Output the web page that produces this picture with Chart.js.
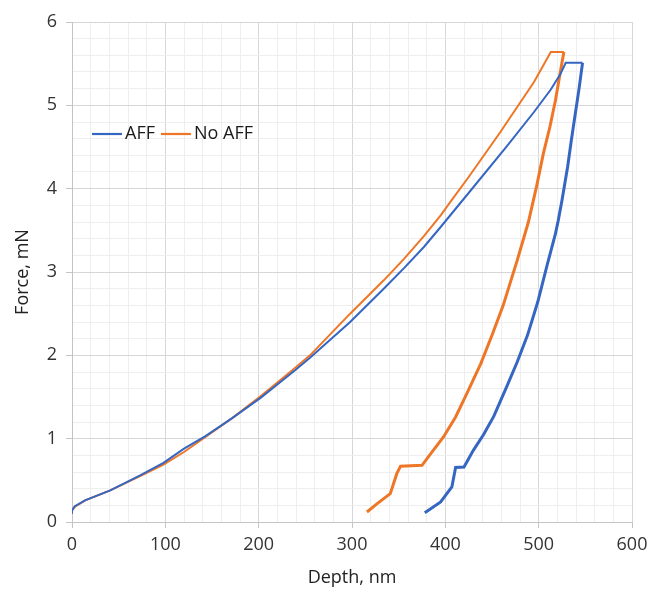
<!DOCTYPE html>
<html>
<head>
<meta charset="utf-8">
<script src="https://cdn.jsdelivr.net/npm/chart.js@4.4.1/dist/chart.umd.min.js"></script>
<style>
  html, body { margin: 0; padding: 0; background: #fff; }
  #wrap { width: 649px; height: 590px; }
</style>
</head>
<body>
<div id="wrap"><canvas id="myChart" width="649" height="590"></canvas></div>
<script>
// series: depth (nm) and force (mN), load then unload
const seriesNames = ['AFF', 'No AFF'];

const affDepth = [0, 0, 3, 14, 41, 73, 98, 120, 143, 172, 202, 239, 255, 298, 334, 356, 377, 395, 406, 428, 466, 495, 513, 523, 529,
  547, 543, 539, 535, 531, 525, 521, 518, 509, 499, 488, 477, 466, 459, 452, 441, 430, 420, 411, 407, 395, 378];
const affForce = [0.10, 0.14, 0.19, 0.26, 0.38, 0.56, 0.71, 0.88, 1.03, 1.25, 1.49, 1.82, 1.97, 2.40, 2.80, 3.05, 3.30, 3.54, 3.69, 3.99, 4.51, 4.92, 5.19, 5.37, 5.51,
  5.51, 5.18, 4.88, 4.58, 4.26, 3.86, 3.62, 3.46, 3.08, 2.64, 2.24, 1.92, 1.63, 1.45, 1.27, 1.05, 0.86, 0.66, 0.655, 0.42, 0.24, 0.11];
const affUnloadStart = 25;

const noAffDepth = [0, 0, 3, 14, 41, 73, 98, 120, 143, 172, 202, 236, 255, 298, 334, 356, 377, 395, 406, 425, 459, 495, 513,
  527, 524, 518, 512, 505, 498, 489, 477, 462, 450, 438, 423, 411, 398, 385, 375, 352, 348, 341, 327, 316];
const noAffForce = [0.10, 0.14, 0.18, 0.26, 0.38, 0.55, 0.69, 0.84, 1.02, 1.25, 1.51, 1.82, 2.00, 2.50, 2.90, 3.16, 3.43, 3.68, 3.85, 4.14, 4.68, 5.28, 5.64,
  5.64, 5.45, 5.06, 4.74, 4.42, 4.04, 3.60, 3.14, 2.60, 2.24, 1.90, 1.54, 1.26, 1.02, 0.83, 0.68, 0.67, 0.58, 0.34, 0.22, 0.12];
const noAffUnloadStart = 23;

const xMin = 0, xMax = 600, xMajor = 100, xMinor = 20;
const yMin = 0, yMax = 6, yMajor = 1, yMinor = 0.2;

const toPoints = (xs, ys) => xs.map((x, i) => ({ x: x, y: ys[i] }));

const isMajor = (v, step) => Math.abs(v / step - Math.round(v / step)) < 1e-6;

const FONT = "'Open Sans', 'DejaVu Sans', sans-serif";

// unloading data is noisy in the original, so it reads as a thicker trace
const widthFrom = start => ctx => ctx.p0DataIndex >= start ? 3 : 2;

// legend drawn inside the plot, like the original
const insideLegend = {
  id: 'insideLegend',
  afterDraw(chart) {
    const ctx = chart.ctx;
    let x = 92;
    const y = 134;
    ctx.save();
    ctx.font = "18px " + FONT;
    ctx.textBaseline = 'middle';
    chart.data.datasets.forEach(ds => {
      ctx.strokeStyle = ds.borderColor;
      ctx.lineWidth = 2.2;
      ctx.beginPath();
      ctx.moveTo(x, y);
      ctx.lineTo(x + 30, y);
      ctx.stroke();
      ctx.fillStyle = '#1a1a1a';
      ctx.fillText(ds.label, x + 33, y);
      x += 33 + ctx.measureText(ds.label).width + 6;
    });
    ctx.restore();
  }
};

const canvas = document.getElementById('myChart');
const myChart = new Chart(canvas, {
  type: 'scatter',
  data: {
    datasets: [{
      label: seriesNames[0],
      data: toPoints(affDepth, affForce),
      showLine: true,
      borderColor: '#3566C2',
      backgroundColor: '#3566C2',
      borderWidth: 2,
      segment: { borderWidth: widthFrom(affUnloadStart) },
      pointRadius: 0,
      tension: 0
    }, {
      label: seriesNames[1],
      data: toPoints(noAffDepth, noAffForce),
      showLine: true,
      borderColor: '#EE7626',
      backgroundColor: '#EE7626',
      borderWidth: 2,
      segment: { borderWidth: widthFrom(noAffUnloadStart) },
      pointRadius: 0,
      tension: 0
    }]
  },
  options: {
    responsive: false,
    animation: false,
    layout: { padding: { top: 22, right: 17, left: 0, bottom: 0 } },
    plugins: {
      legend: { display: false },
      tooltip: { enabled: false }
    },
    scales: {
      x: {
        type: 'linear',
        min: xMin,
        max: xMax,
        afterFit: s => { s.height = 68; s.paddingLeft = 0; s.paddingRight = 0; },
        ticks: {
          stepSize: xMinor,
          autoSkip: false,
          maxRotation: 0,
          padding: 6,
          color: '#333',
          font: { family: FONT, size: 18 },
          callback: v => isMajor(v, xMajor) ? v : ''
        },
        grid: {
          color: c => isMajor(c.tick.value, xMajor) ? '#d6d6d6' : '#eeeeee',
          tickColor: c => isMajor(c.tick.value, xMajor) ? '#c4c4c4' : 'rgba(0,0,0,0)',
          tickLength: 6,
          lineWidth: 1
        },
        border: { color: '#c4c4c4' },
        title: {
          display: true,
          text: 'Depth, nm',
          color: '#222',
          font: { family: FONT, size: 18 },
          padding: { top: 0, bottom: 1 }
        }
      },
      y: {
        type: 'linear',
        min: yMin,
        max: yMax,
        afterFit: s => { s.width = 72; },
        ticks: {
          stepSize: yMinor,
          autoSkip: false,
          padding: 9,
          color: '#333',
          font: { family: FONT, size: 18 },
          callback: v => isMajor(v, yMajor) ? Math.round(v) : ''
        },
        grid: {
          color: c => isMajor(c.tick.value, yMajor) ? '#d6d6d6' : '#eeeeee',
          tickColor: c => isMajor(c.tick.value, yMajor) ? '#c4c4c4' : 'rgba(0,0,0,0)',
          tickLength: 6,
          lineWidth: 1
        },
        border: { color: '#c4c4c4' },
        title: {
          display: true,
          text: 'Force, mN',
          color: '#222',
          font: { family: FONT, size: 18 },
          padding: { top: 12, bottom: 0 }
        }
      }
    }
  },
  plugins: [insideLegend]
});
</script>
</body>
</html>
